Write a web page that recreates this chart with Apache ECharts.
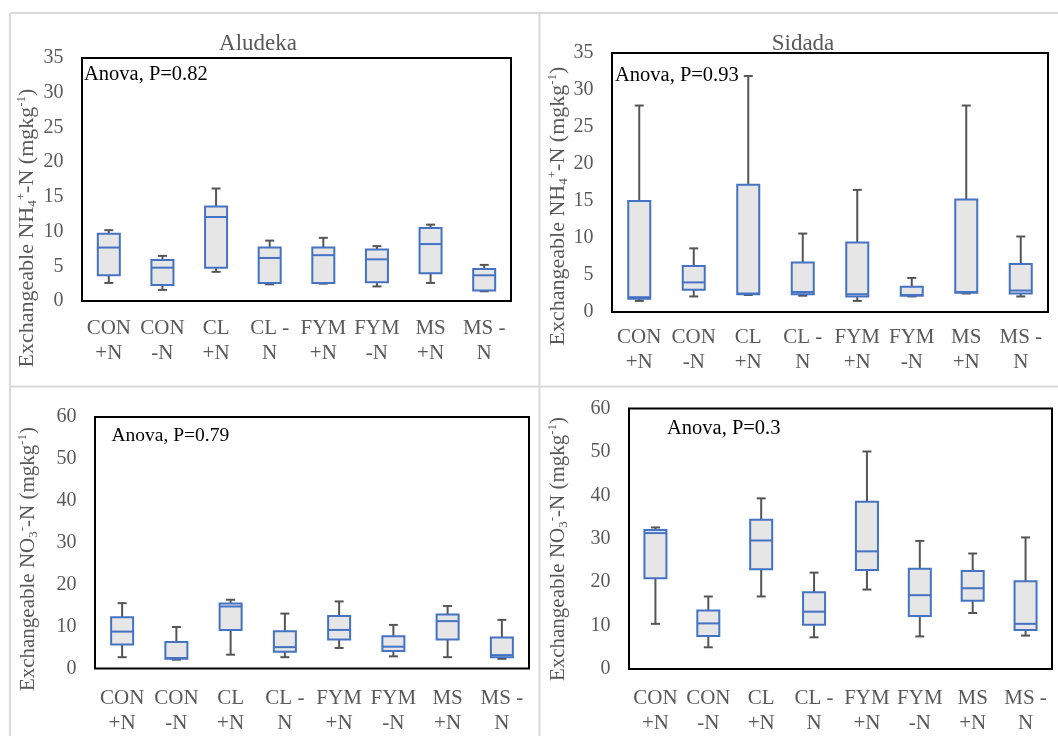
<!DOCTYPE html>
<html><head><meta charset="utf-8">
<script src="https://cdn.jsdelivr.net/npm/echarts@6/dist/echarts.min.js"></script>
<style>html,body{margin:0;padding:0;background:#fff}#c{width:1058px;height:736px}</style>
</head><body><div id="c"></div>
<script>
// Categories (x axis)
const categories = ['CON\n+N', 'CON\n-N', 'CL\n+N', 'CL -\nN', 'FYM\n+N', 'FYM\n-N', 'MS\n+N', 'MS -\nN'];

// Each row: [min, Q1, median, Q3, max]
const aludekaNH4 = [
  [2.6, 3.7, 7.7, 9.7, 10.2],
  [1.6, 2.3, 4.8, 5.9, 6.5],
  [4.2, 4.8, 12.1, 13.6, 16.2],
  [2.4, 2.6, 6.2, 7.7, 8.7],
  [2.5, 2.6, 6.6, 7.7, 9.1],
  [2.1, 2.7, 6.0, 7.4, 7.9],
  [2.6, 4.0, 8.2, 10.5, 11.0],
  [1.4, 1.5, 3.7, 4.6, 5.2]
];
const sidadaNH4 = [
  [1.5, 1.8, 2.0, 15.0, 27.9],
  [2.1, 3.0, 4.0, 6.2, 8.6],
  [2.3, 2.4, 2.5, 17.2, 31.9],
  [2.2, 2.4, 2.7, 6.7, 10.6],
  [1.5, 2.1, 2.4, 9.4, 16.5],
  [2.1, 2.2, 2.3, 3.4, 4.6],
  [2.5, 2.6, 2.7, 15.2, 27.9],
  [2.1, 2.5, 2.9, 6.5, 10.2]
];
const aludekaNO3 = [
  [2.7, 5.7, 8.8, 12.2, 15.6],
  [2.1, 2.3, 2.5, 6.3, 9.9],
  [3.3, 9.2, 14.8, 15.5, 16.4],
  [2.7, 4.0, 5.1, 8.9, 13.1],
  [4.9, 6.9, 9.2, 12.5, 16.0],
  [2.9, 4.2, 5.2, 7.7, 10.4],
  [2.7, 6.9, 11.3, 12.9, 14.9],
  [2.3, 2.7, 3.2, 7.4, 11.6]
];
const sidadaNO3 = [
  [10.4, 20.9, 31.3, 32.0, 32.6],
  [5.0, 7.6, 10.5, 13.5, 16.7],
  [16.7, 23.0, 29.6, 34.4, 39.3],
  [7.3, 10.2, 13.2, 17.7, 22.2],
  [18.3, 22.8, 27.1, 38.5, 50.1],
  [7.5, 12.2, 17.0, 23.1, 29.5],
  [12.9, 15.7, 18.6, 22.6, 26.6],
  [7.7, 9.0, 10.4, 20.2, 30.3]
];

const nh4Max = 35, nh4Interval = 5;
const no3Max = 60, no3Interval = 10;
const anovaLabels = ['Anova, P=0.82', 'Anova, P=0.93', 'Anova, P=0.79', 'Anova, P=0.3'];
const siteTitles = ['Aludeka', 'Sidada'];

const FONT = 'Liberation Serif, Times New Roman, Tinos, DejaVu Serif, serif';
const GRAY = '#595959';
const BLUE = '#4472c4';
const WHISK = '#555555';

const grids = [
  {left: 82, top: 58, width: 429, height: 243},
  {left: 612, top: 53, width: 436, height: 259},
  {left: 95, top: 417, width: 434, height: 254},
  {left: 629, top: 408.5, width: 423, height: 262}
];
const labelMargins = [14.5, 12.5, 17.5, 17];

function renderBox(params, api) {
  const i = api.value(0);
  const pMin = api.coord([i, api.value(1)]);
  const pQ1 = api.coord([i, api.value(2)]);
  const pMed = api.coord([i, api.value(3)]);
  const pQ3 = api.coord([i, api.value(4)]);
  const pMax = api.coord([i, api.value(5)]);
  const cx = pMin[0];
  const bw = 22, cw = 9;
  const ws = {stroke: WHISK, lineWidth: 2};
  return {
    type: 'group',
    children: [
      {type: 'line', shape: {x1: cx, y1: pMax[1], x2: cx, y2: pQ3[1]}, style: ws},
      {type: 'line', shape: {x1: cx, y1: pQ1[1], x2: cx, y2: pMin[1]}, style: ws},
      {type: 'line', shape: {x1: cx - cw / 2, y1: pMax[1], x2: cx + cw / 2, y2: pMax[1]}, style: ws},
      {type: 'line', shape: {x1: cx - cw / 2, y1: pMin[1], x2: cx + cw / 2, y2: pMin[1]}, style: ws},
      {type: 'rect', shape: {x: cx - bw / 2, y: pQ3[1], width: bw, height: pQ1[1] - pQ3[1]},
        style: {fill: '#e7e6e6', stroke: BLUE, lineWidth: 2}},
      {type: 'line', shape: {x1: cx - bw / 2, y1: pMed[1], x2: cx + bw / 2, y2: pMed[1]},
        style: {stroke: BLUE, lineWidth: 2}}
    ]
  };
}

const datasets = [aludekaNH4, sidadaNH4, aludekaNO3, sidadaNO3];

const option = {
  backgroundColor: '#ffffff',
  animation: false,
  textStyle: {fontFamily: FONT},
  grid: grids.map(g => Object.assign({show: true, borderColor: '#000', borderWidth: 2, backgroundColor: 'transparent'}, g)),
  xAxis: grids.map((g, k) => ({
    type: 'category', gridIndex: k, data: categories,
    axisLine: {show: false}, axisTick: {show: false}, splitLine: {show: false},
    axisLabel: {interval: 0, color: GRAY, fontFamily: FONT, fontSize: 21, lineHeight: 25, margin: labelMargins[k]}
  })),
  yAxis: grids.map((g, k) => ({
    type: 'value', gridIndex: k, min: 0,
    max: k < 2 ? nh4Max : no3Max, interval: k < 2 ? nh4Interval : no3Interval,
    axisLine: {show: false}, axisTick: {show: false}, splitLine: {show: false},
    axisLabel: {color: GRAY, fontFamily: FONT, fontSize: 20, margin: 18.5}
  })),
  series: datasets.map((d, k) => ({
    type: 'custom', xAxisIndex: k, yAxisIndex: k,
    renderItem: renderBox,
    encode: {x: 0, y: [1, 2, 3, 4, 5]},
    data: d.map((r, i) => [i].concat(r))
  })),
  graphic: [
    // panel separators
    {type: 'line', silent: true, z: -10, shape: {x1: 10, y1: 13, x2: 1058, y2: 13}, style: {stroke: '#d9d9d9', lineWidth: 2}},
    {type: 'line', silent: true, z: -10, shape: {x1: 10, y1: 13, x2: 10, y2: 736}, style: {stroke: '#d9d9d9', lineWidth: 2}},
    {type: 'line', silent: true, z: -10, shape: {x1: 539.5, y1: 13, x2: 539.5, y2: 736}, style: {stroke: '#d9d9d9', lineWidth: 2}},
    {type: 'line', silent: true, z: -10, shape: {x1: 10, y1: 386.5, x2: 1058, y2: 386.5}, style: {stroke: '#d9d9d9', lineWidth: 2}},
    // site titles
    {type: 'text', x: 258, y: 44, style: {text: siteTitles[0], fontFamily: FONT, fontSize: 23, fill: GRAY, align: 'center', verticalAlign: 'middle'}},
    {type: 'text', x: 803, y: 44, style: {text: siteTitles[1], fontFamily: FONT, fontSize: 23, fill: GRAY, align: 'center', verticalAlign: 'middle'}},
    // anova labels
    {type: 'text', x: 84, y: 75, z: 10, style: {text: anovaLabels[0], fontFamily: FONT, fontSize: 20.5, fill: '#000', align: 'left', verticalAlign: 'middle'}},
    {type: 'text', x: 615, y: 76, z: 10, style: {text: anovaLabels[1], fontFamily: FONT, fontSize: 20.5, fill: '#000', align: 'left', verticalAlign: 'middle'}},
    {type: 'text', x: 111.5, y: 436, z: 10, style: {text: anovaLabels[2], fontFamily: FONT, fontSize: 19.5, fill: '#000', align: 'left', verticalAlign: 'middle'}},
    {type: 'text', x: 667, y: 429, z: 10, style: {text: anovaLabels[3], fontFamily: FONT, fontSize: 20.5, fill: '#000', align: 'left', verticalAlign: 'middle'}}
  ].concat([
    {x: 27, y: 228, t: 'Exchangeable NH{sub|4}{sup|+}-N (mgkg{sup|-1})', fs: 22},
    {x: 558.5, y: 206, t: 'Exchangeable NH{sub|4}{sup|+}-N (mgkg{sup|-1})', fs: 22},
    {x: 28.5, y: 559, t: 'Exchangeable NO{sub|3}{sup|-}-N (mgkg{sup|-1})', fs: 21},
    {x: 558.5, y: 549, t: 'Exchangeable NO{sub|3}{sup|-}-N (mgkg{sup|-1})', fs: 21}
  ].map(n => ({
    type: 'text', x: n.x, y: n.y, rotation: Math.PI / 2,
    style: {
      text: n.t, fontFamily: FONT, fontSize: n.fs, fill: GRAY, lineHeight: 24,
      align: 'center', verticalAlign: 'middle',
      rich: {
        sub: {fontFamily: FONT, fontSize: 13, fill: GRAY, verticalAlign: 'bottom', lineHeight: 14},
        sup: {fontFamily: FONT, fontSize: 13, fill: GRAY, verticalAlign: 'top', lineHeight: 14}
      }
    }
  })))
};

const chart = echarts.init(document.getElementById('c'), null, {renderer: 'canvas'});
chart.setOption(option);
</script>
</body></html>
